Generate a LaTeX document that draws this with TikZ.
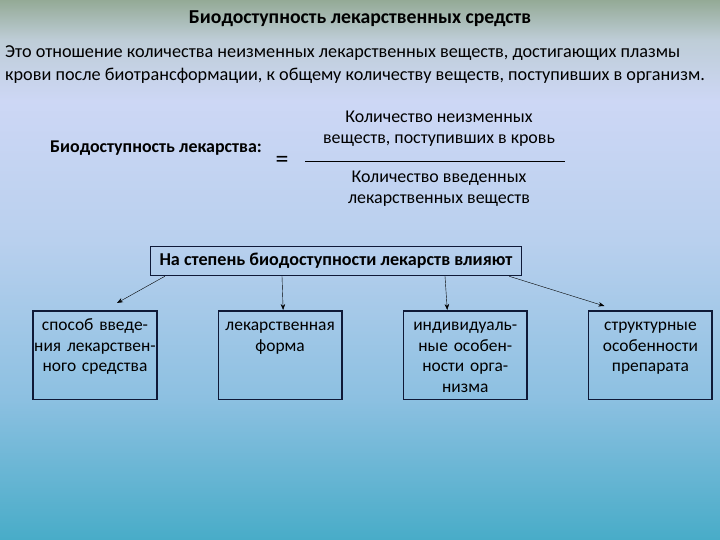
\documentclass[tikz,border=0pt]{standalone}
\usepackage{fontspec}
\setmainfont{Carlito}
\usepackage{tikz}
\usetikzlibrary{arrows.meta, positioning}
\definecolor{boxline}{RGB}{15,25,55}
\definecolor{bgtop}{RGB}{148,170,150}
\definecolor{bgupper}{RGB}{190,205,215}
\definecolor{bglilac}{RGB}{205,215,245}
\definecolor{bgmid}{RGB}{185,208,238}
\definecolor{bglow}{RGB}{140,192,225}
\definecolor{bgbottom}{RGB}{72,172,200}
\pgfdeclareverticalshading{slidebg}{100bp}{
    color(0bp)=(bgbottom);
    color(25bp)=(bgbottom);
    color(38bp)=(bglow);
    color(52.8bp)=(bgmid);
    color(65.7bp)=(bglilac);
    color(71.3bp)=(bgupper);
    color(75bp)=(bgtop);
    color(100bp)=(bgtop)
}
\tikzstyle{heading} = [
    font=\fontsize{19.8}{22}\selectfont\bfseries
]
\tikzstyle{plain} = [
    font=\fontsize{18.3}{23.5}\selectfont,
    align=left,
    anchor=north west,
    inner sep=0pt
]
\tikzstyle{formula} = [
    font=\fontsize{18}{21}\selectfont,
    align=center,
    inner sep=0pt
]
\tikzstyle{header} = [
    rectangle,
    draw=boxline,
    line width=1.6pt,
    minimum width=372pt,
    minimum height=29pt,
    text centered,
    font=\fontsize{18.2}{20}\selectfont\bfseries
]
\tikzstyle{factor} = [
    rectangle,
    draw=boxline,
    line width=1.6pt,
    text width=124pt,
    align=center,
    inner xsep=0pt,
    inner ysep=0pt,
    text height=20pt,
    text depth=69pt,
    anchor=north,
    font=\fontsize{17.5}{20.7}\selectfont
]
\tikzstyle{arrow} = [
    thin,
    -{Stealth[length=6pt,width=4.5pt]}
]

\begin{document}
\begin{tikzpicture}[
    x=1bp,
    y=-1bp,
    node distance=60bp
]

\shade [shading=slidebg] (0,0) rectangle (720,540);
\useasboundingbox (0,0) rectangle (720,540);

\node (title) [heading] at (360,19)
{Биодоступность лекарственных средств};

\node (definition) [plain] at (5,45)
{Это отношение количества неизменных лекарственных веществ, достигающих плазмы\\
крови после биотрансформации, к общему количеству веществ, поступивших в организм.};

\node (ratio) [formula, font=\fontsize{18}{21}\selectfont\bfseries] at (156,148)
{Биодоступность лекарства:};

\node (equals) [formula, font=\fontsize{26}{26}\selectfont] at (282,162)
{=};

\coordinate (barleft) at (305,161);
\coordinate (barright) at (565,161);

\node (numerator) [formula] at (439,129)
{Количество неизменных\\веществ, поступивших в кровь};

\node (denominator) [formula] at (439,189)
{Количество введенных\\лекарственных веществ};

\draw [thin] (barleft) -- (barright);

\node (influence) [header] at (336,261)
{На степень биодоступности лекарств влияют};

\node (route) [factor] at (95,310)
{способ введе-\\ния лекарствен-\\ного средства};

\node (form) [factor, right=of route]
{лекарственная\\форма};

\node (organism) [factor, right=of form]
{индивидуаль-\\ные особен-\\ности орга-\\низма};

\node (structure) [factor, right=of organism]
{структурные\\особенности\\препарата};

\draw [arrow]
([xshift=15bp]influence.south west) -- ([xshift=22bp,yshift=7bp]route.north);

\draw [arrow]
([xshift=-54bp]influence.south) -- ([xshift=3bp]form.north);

\draw [arrow]
([xshift=109bp]influence.south) -- ([xshift=-18bp]organism.north);

\draw [arrow]
([xshift=-13bp]influence.south east) -- ([xshift=-46bp,yshift=4bp]structure.north);

\end{tikzpicture}
\end{document}
